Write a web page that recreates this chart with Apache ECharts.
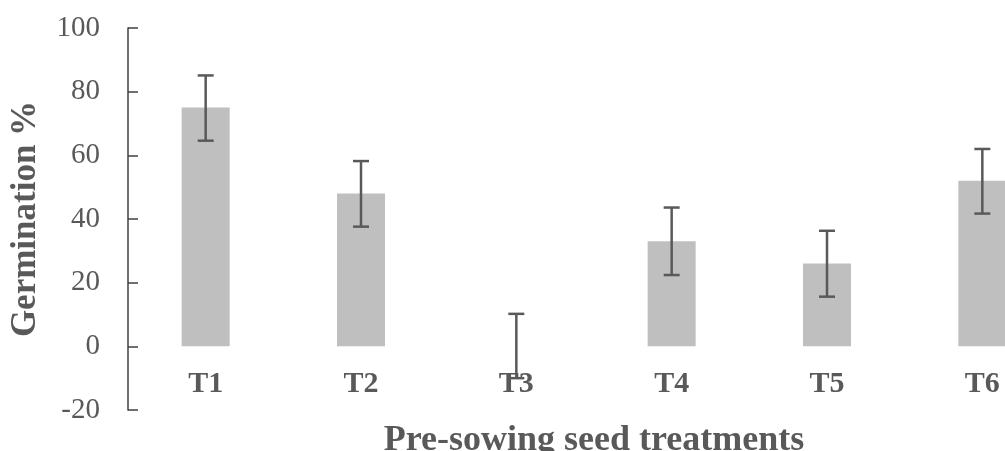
<!DOCTYPE html>
<html>
<head>
<meta charset="utf-8">
<script src="https://cdn.jsdelivr.net/npm/echarts@6/dist/echarts.min.js"></script>
<style>html,body{margin:0;padding:0;background:#fff;}#c{width:1005px;height:451px;}</style>
</head>
<body>
<div id="c"></div>
<script>
const categories = ['T1', 'T2', 'T3', 'T4', 'T5', 'T6'];
const germination = [75, 48, 0, 33, 26, 52];
const errLow = [64.6, 37.6, -10, 22.4, 15.6, 41.7];
const errHigh = [85.1, 58.2, 10.2, 43.6, 36.3, 62];
const yTicks = { min: -20, max: 100, interval: 20 };

const chart = echarts.init(document.getElementById('c'), null, { renderer: 'canvas' });
const serif = 'Liberation Serif';
const grey = '#595959';
const gridTop = 28, gridBottom = 41;
const plotH = 451 - gridTop - gridBottom;
// place the category axis on the value 0 (labels move with it)
const zeroOffset = -((0 - yTicks.min) / (yTicks.max - yTicks.min)) * plotH;

chart.setOption({
  animation: false,
  backgroundColor: '#ffffff',
  grid: { left: 128, right: -55, top: gridTop, bottom: gridBottom, containLabel: false, outerBoundsMode: 'none' },
  xAxis: {
    type: 'category',
    data: categories,
    offset: zeroOffset,
    name: 'Pre-sowing seed treatments',
    nameLocation: 'middle',
    nameGap: 76,
    nameTextStyle: { fontFamily: serif, fontWeight: 'bold', fontSize: 36, color: grey },
    axisLine: { show: false, onZero: false },
    axisTick: { show: false },
    axisLabel: { fontFamily: serif, fontWeight: 'bold', fontSize: 30, color: grey, margin: 23 },
    splitLine: { show: false }
  },
  yAxis: {
    type: 'value',
    min: yTicks.min,
    max: yTicks.max,
    interval: yTicks.interval,
    name: 'Germination %',
    nameLocation: 'middle',
    nameGap: 85,
    nameTextStyle: { fontFamily: serif, fontWeight: 'bold', fontSize: 35, color: grey },
    axisLine: { show: true, lineStyle: { color: '#404040', width: 1.5 } },
    axisTick: { show: true, inside: true, length: 10, lineStyle: { color: '#404040', width: 1.5 } },
    axisLabel: { fontFamily: serif, fontSize: 29, color: grey, margin: 28 },
    splitLine: { show: false }
  },
  series: [
    {
      type: 'bar',
      data: germination,
      barWidth: 48,
      itemStyle: { color: '#bfbfbf' },
      z: 2
    },
    {
      type: 'custom',
      z: 5,
      data: categories.map((c, i) => [i, errLow[i], errHigh[i]]),
      renderItem: function (params, api) {
        const x = api.value(0);
        const lo = api.coord([x, api.value(1)]);
        const hi = api.coord([x, api.value(2)]);
        const half = 8;
        const style = { stroke: '#595959', lineWidth: 2.5 };
        return {
          type: 'group',
          children: [
            { type: 'line', shape: { x1: lo[0], y1: lo[1], x2: hi[0], y2: hi[1] }, style: style },
            { type: 'line', shape: { x1: hi[0] - half, y1: hi[1], x2: hi[0] + half, y2: hi[1] }, style: style },
            { type: 'line', shape: { x1: lo[0] - half, y1: lo[1], x2: lo[0] + half, y2: lo[1] }, style: style }
          ]
        };
      }
    }
  ]
});
</script>
</body>
</html>
